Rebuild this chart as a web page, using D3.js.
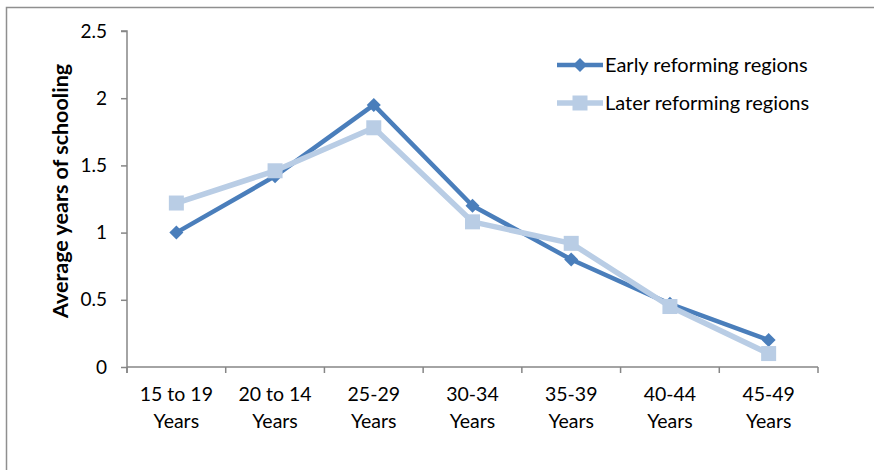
<!DOCTYPE html>
<html>
<head>
<meta charset="utf-8">
<script src="https://cdn.jsdelivr.net/npm/d3@7"></script>
<style>
  html, body { margin: 0; padding: 0; background: #fff; }
  svg { display: block; }
  text { font-family: Lato, "Open Sans", sans-serif; fill: #000; }
</style>
</head>
<body>
<svg id="chart" width="874" height="470"></svg>
<script>
// ---- data ----
const categories = ["15 to 19|Years", "20 to 14|Years", "25-29|Years", "30-34|Years", "35-39|Years", "40-44|Years", "45-49|Years"];
const earlyValues = [1.0, 1.42, 1.95, 1.2, 0.8, 0.47, 0.2];
const laterValues = [1.22, 1.46, 1.78, 1.08, 0.92, 0.45, 0.1];
const seriesNames = ["Early reforming regions", "Later reforming regions"];
const yTicks = [0, 0.5, 1, 1.5, 2, 2.5];
const yTitle = "Average years of schooling";

const svg = d3.select("#chart");
const W = 874, H = 470;
const margin = { left: 127, right: W - 818, top: 31, bottom: H - 367 };

// outer frame
svg.append("rect")
  .attr("x", 6.5).attr("y", 7.5)
  .attr("width", 1000).attr("height", 1000)
  .attr("fill", "none")
  .attr("stroke", "#8f8f8f")
  .attr("stroke-width", 1.5);

const x = d3.scaleBand().domain(categories).range([margin.left, W - margin.right]).padding(0);
const y = d3.scaleLinear().domain([0, 2.5]).range([H - margin.bottom, margin.top]);
const axisColor = "#868686";

// y axis
const yAxis = svg.append("g")
  .attr("transform", `translate(${margin.left},0)`)
  .call(d3.axisLeft(y).tickValues(yTicks).tickSize(6).tickPadding(14).tickFormat(d => String(d)));
yAxis.select(".domain").attr("stroke", axisColor).attr("stroke-width", 1.5).attr("d", `M-6,${y(2.5)}H0V${y(0) + 6}`);
yAxis.selectAll(".tick line").attr("stroke", axisColor).attr("stroke-width", 1.5);
yAxis.selectAll(".tick text").style("font-size", "19px").style("font-family", "Lato, sans-serif").attr("fill", "#000");

// x axis
const xAxisG = svg.append("g").attr("transform", `translate(0,${y(0)})`);
xAxisG.append("line")
  .attr("x1", x.range()[0]).attr("x2", x.range()[1])
  .attr("stroke", axisColor).attr("stroke-width", 1.5);
const boundaries = categories.map(c => x(c)).concat([x.range()[1]]);
xAxisG.selectAll("line.tk").data(boundaries).enter().append("line")
  .attr("class", "tk")
  .attr("x1", d => d).attr("x2", d => d)
  .attr("y1", 0).attr("y2", 6)
  .attr("stroke", axisColor).attr("stroke-width", 1.5);
const xl = xAxisG.selectAll("text.xl").data(categories).enter().append("text")
  .attr("class", "xl")
  .attr("text-anchor", "middle")
  .attr("x", d => x(d) + x.bandwidth() / 2)
  .style("font-size", "19.5px");
xl.append("tspan").attr("x", d => x(d) + x.bandwidth() / 2).attr("y", 34).text(d => d.split("|")[0]);
xl.append("tspan").attr("x", d => x(d) + x.bandwidth() / 2).attr("y", 61).text(d => d.split("|")[1]);

// y title
svg.append("text")
  .attr("transform", `translate(68,191) rotate(-90)`)
  .attr("text-anchor", "middle")
  .style("font-size", "21.5px")
  .style("font-weight", "bold")
  .text(yTitle);

// series
const cx = (i) => x(categories[i]) + x.bandwidth() / 2;
const line = d3.line().x((d, i) => cx(i)).y(d => y(d));

const earlyColor = "#4a7ebb";
const laterColor = "#b9cde5";

svg.append("path").datum(earlyValues)
  .attr("d", line).attr("fill", "none")
  .attr("stroke", earlyColor).attr("stroke-width", 4.5).attr("stroke-linejoin", "round");
svg.selectAll("path.dm").data(earlyValues).enter().append("path")
  .attr("class", "dm")
  .attr("d", d3.symbol().type(d3.symbolDiamond2).size(125))
  .attr("transform", (d, i) => `translate(${cx(i)},${y(d)})`)
  .attr("fill", earlyColor);

svg.append("path").datum(laterValues)
  .attr("d", line).attr("fill", "none")
  .attr("stroke", laterColor).attr("stroke-width", 5.5).attr("stroke-linejoin", "round");
svg.selectAll("rect.sq").data(laterValues).enter().append("rect")
  .attr("class", "sq")
  .attr("x", (d, i) => cx(i) - 7.5).attr("y", d => y(d) - 7.5)
  .attr("width", 15).attr("height", 15)
  .attr("fill", laterColor);

// legend
const legend = svg.append("g");
const legY = [65, 103];
const legColors = [earlyColor, laterColor];
seriesNames.forEach((name, i) => {
  legend.append("line")
    .attr("x1", 557).attr("x2", 603).attr("y1", legY[i]).attr("y2", legY[i])
    .attr("stroke", legColors[i]).attr("stroke-width", i === 0 ? 4.5 : 5.5);
  if (i === 0) {
    legend.append("path")
      .attr("d", d3.symbol().type(d3.symbolDiamond2).size(125))
      .attr("transform", `translate(580,${legY[i]})`)
      .attr("fill", earlyColor);
  } else {
    legend.append("rect")
      .attr("x", 580 - 7.5).attr("y", legY[i] - 7.5).attr("width", 15).attr("height", 15)
      .attr("fill", laterColor);
  }
  legend.append("text")
    .attr("x", 605).attr("y", legY[i]).attr("dy", "0.35em")
    .style("font-size", "20px")
    .text(name);
});
</script>
</body>
</html>
